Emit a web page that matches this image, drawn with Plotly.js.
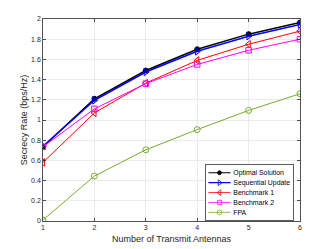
<!DOCTYPE html>
<html>
<head>
<meta charset="utf-8">
<script src="https://cdn.plot.ly/plotly-3.0.1.min.js"></script>
<style>html,body{margin:0;padding:0;background:#fff;}#chart{width:332px;height:249px;}</style>
</head>
<body>
<div id="chart"></div>
<script>
const antennas = [1, 2, 3, 4, 5, 6];
const optimalSolution = [0.735, 1.21, 1.49, 1.70, 1.85, 1.965];
const sequentialUpdate = [0.74, 1.195, 1.475, 1.68, 1.83, 1.945];
const benchmark1 = [0.58, 1.07, 1.365, 1.59, 1.75, 1.88];
const benchmark2 = [0.735, 1.11, 1.36, 1.55, 1.69, 1.80];
const fpa = [0.01, 0.445, 0.705, 0.905, 1.095, 1.26];
const yTicks = [0, 0.2, 0.4, 0.6, 0.8, 1, 1.2, 1.4, 1.6, 1.8, 2];
const yTickLabels = ['0', '0.2', '0.4', '0.6', '0.8', '1', '1.2', '1.4', '1.6', '1.8', '2'];
const xTicks = [1, 2, 3, 4, 5, 6];

const font = 'Liberation Sans, Arial, sans-serif';
const traces = [
  {name: 'Optimal Solution', y: optimalSolution, color: '#000000', symbol: 'circle', size: 5, width: 1.5},
  {name: 'Sequential Update', y: sequentialUpdate, color: '#0000ff', symbol: 'triangle-right-open', size: 6.5, width: 1.5},
  {name: 'Benchmark 1', y: benchmark1, color: '#ff0000', symbol: 'triangle-left-open', size: 6.5, width: 1},
  {name: 'Benchmark 2', y: benchmark2, color: '#ff00ff', symbol: 'square-open', size: 5.5, width: 1},
  {name: 'FPA', y: fpa, color: '#77ac30', symbol: 'circle-open', size: 6, width: 1}
].map(t => ({
  x: antennas, y: t.y, name: t.name, type: 'scatter', mode: 'lines+markers',
  line: {color: t.color, width: t.width},
  marker: {color: t.color, symbol: t.symbol, size: t.size, line: {color: t.color, width: 1}}
}));

const axisCommon = {
  showline: true, linecolor: '#262626', linewidth: 0.8, mirror: 'ticks',
  ticks: 'inside', ticklen: 3, tickcolor: '#262626', tickwidth: 0.8,
  showgrid: true, gridcolor: '#e6e6e6', gridwidth: 0.8, zeroline: false,
  tickfont: {family: font, size: 7, color: '#262626'}
};

const LEGEND_SCALE = 0.54;
const LEGEND_STEP = 9.9;  // px between legend rows after scaling
const layout = {
  width: 332, height: 249,
  margin: {l: 43, r: 32, t: 19, b: 28, autoexpand: false},
  paper_bgcolor: '#ffffff', plot_bgcolor: '#ffffff',
  showlegend: true,
  xaxis: Object.assign({}, axisCommon, {
    range: [1, 6], tickvals: xTicks, ticktext: xTicks.map(String),
    title: {text: 'Number of Transmit Antennas', font: {family: font, size: 9, color: '#262626'}, standoff: 5}
  }),
  yaxis: Object.assign({}, axisCommon, {
    range: [0, 2], tickvals: yTicks, ticktext: yTickLabels,
    title: {text: 'Secrecy Rate (bps/Hz)', font: {family: font, size: 9, color: '#262626'}, standoff: 1}
  }),
  legend: {
    x: 0.63, y: 0.284, xanchor: 'left', yanchor: 'top',
    bgcolor: '#ffffff', bordercolor: '#262626', borderwidth: 1.4,
    font: {family: font, size: 12.8, color: '#000000'},
    tracegroupgap: 0, itemwidth: 41
  }
};

function parseTranslate(tr) {
  const m = /translate\(\s*([-\d.eE]+)[ ,]+([-\d.eE]+)\s*\)/.exec(tr || '');
  return m ? [parseFloat(m[1]), parseFloat(m[2])] : [0, 0];
}

Plotly.newPlot('chart', traces, layout, {staticPlot: true, displayModeBar: false}).then(function (gd) {
  const lg = gd.querySelector('g.legend');
  if (!lg) return;
  const s = LEGEND_SCALE;
  const items = Array.from(lg.querySelectorAll('g.traces'));
  if (items.length > 1) {
    const pos = items.map(el => parseTranslate(el.getAttribute('transform')));
    const origStep = pos[1][1] - pos[0][1];
    const step = LEGEND_STEP / s;
    items.forEach((el, i) => {
      el.setAttribute('transform', 'translate(' + pos[i][0] + ',' + (pos[0][1] + i * step) + ')');
    });
    const bg = lg.querySelector('rect.bg');
    if (bg) {
      const h = parseFloat(bg.getAttribute('height'));
      bg.setAttribute('height', h - (origStep - step) * (items.length - 1));
    }
  }
  lg.querySelectorAll('.legendpoints path.scatterpts').forEach(p => {
    const tr = p.getAttribute('transform') || '';
    p.setAttribute('transform', tr + ' scale(1.45)');
  });
  lg.querySelectorAll('.legendlines path').forEach(p => {
    const w = parseFloat(p.style.strokeWidth || '1');
    p.style.strokeWidth = (w * 1.5) + 'px';
  });
  lg.setAttribute('transform', 'translate(205,164) scale(' + s + ')');
});
</script>
</body>
</html>
